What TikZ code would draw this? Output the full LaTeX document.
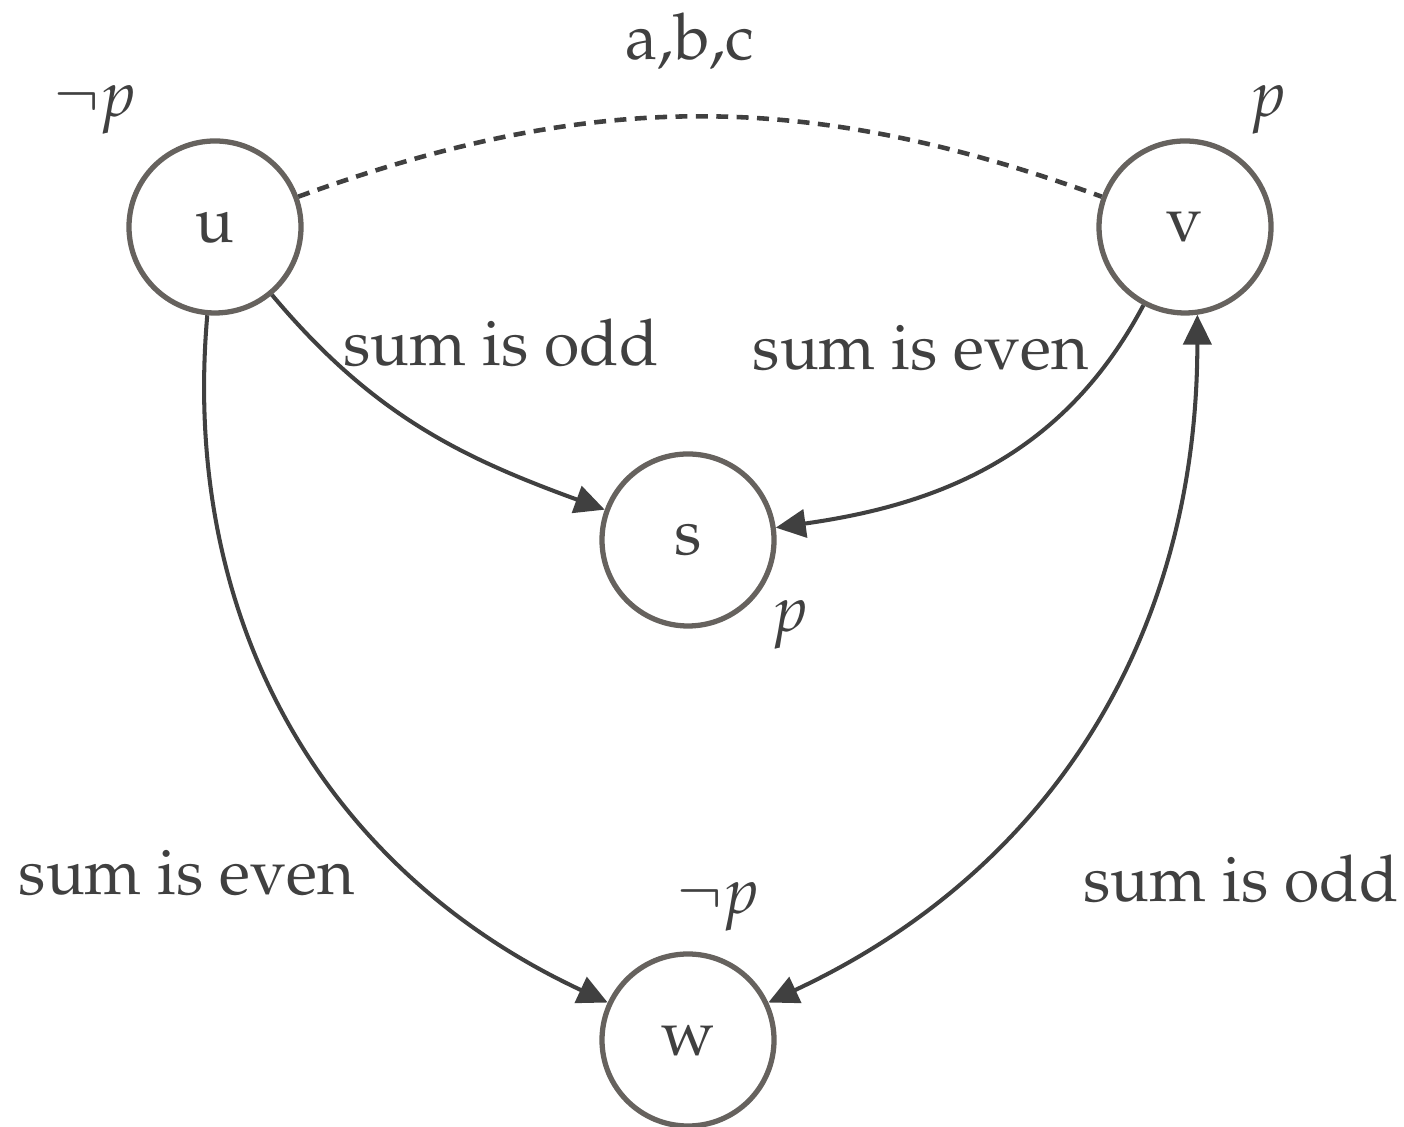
\documentclass[tikz,border=0pt]{standalone}
\usepackage[T1]{fontenc}
\usepackage{mathpazo}
\usepackage{amsmath}
\usetikzlibrary{arrows.meta}
\definecolor{ringgray}{RGB}{102,98,94}
\definecolor{inkgray}{RGB}{64,64,64}
\tikzset{
  state/.style={circle,draw=ringgray,line width=1.5pt,minimum size=1.72cm,inner sep=0pt,text=inkgray},
  trans/.style={draw=inkgray,line width=1.15pt,-{Triangle[length=8.5pt,width=8pt]}},
  lbl/.style={text=inkgray,inner sep=0pt}
}
\begin{document}
\begin{tikzpicture}[x=1cm,y=1cm,font=\fontsize{18.3}{22}\selectfont]
\useasboundingbox (0,0) rectangle (14.04,11.27);
\node[state] (u) at (2.15,9.00) {u};\node[state] (v) at (11.85,9.00) {v};
\node[state] (s) at (6.88,5.87) {s};\node[state] (w) at (6.88,0.87) {w};
\draw[draw=inkgray,line width=1.3pt,dash pattern=on 3.4pt off 2.4pt] (u) to[bend left=20] (v);
\draw[trans] (u) to[out=-50,in=160] (s);
\draw[trans] (v) to[out=-118,in=8] (s);
\draw[trans] (u) to[out=-95,in=155] (w);
\draw[trans,{Triangle[length=8.5pt,width=8pt]}-{Triangle[length=8.5pt,width=8pt]}] (v.-82) to[out=-90,in=25] (w);
\node[lbl] (abc) at (6.90,10.85) {a,b,c};
\node[lbl] (pu) at (0.95,10.17) {$\neg p$};\node[lbl] (pv) at (12.68,10.17) {$p$};
\node[lbl] (ps) at (7.90,5.02) {$p$};\node[lbl] (pw) at (7.18,2.20) {$\neg p$};
\node[lbl] (us) at (5.01,7.84) {sum is odd};\node[lbl] (vs) at (9.21,7.79) {sum is even};
\node[lbl] (uw) at (1.87,2.54) {sum is even};\node[lbl] (vw) at (12.41,2.48) {sum is odd};
\end{tikzpicture}
\end{document}
